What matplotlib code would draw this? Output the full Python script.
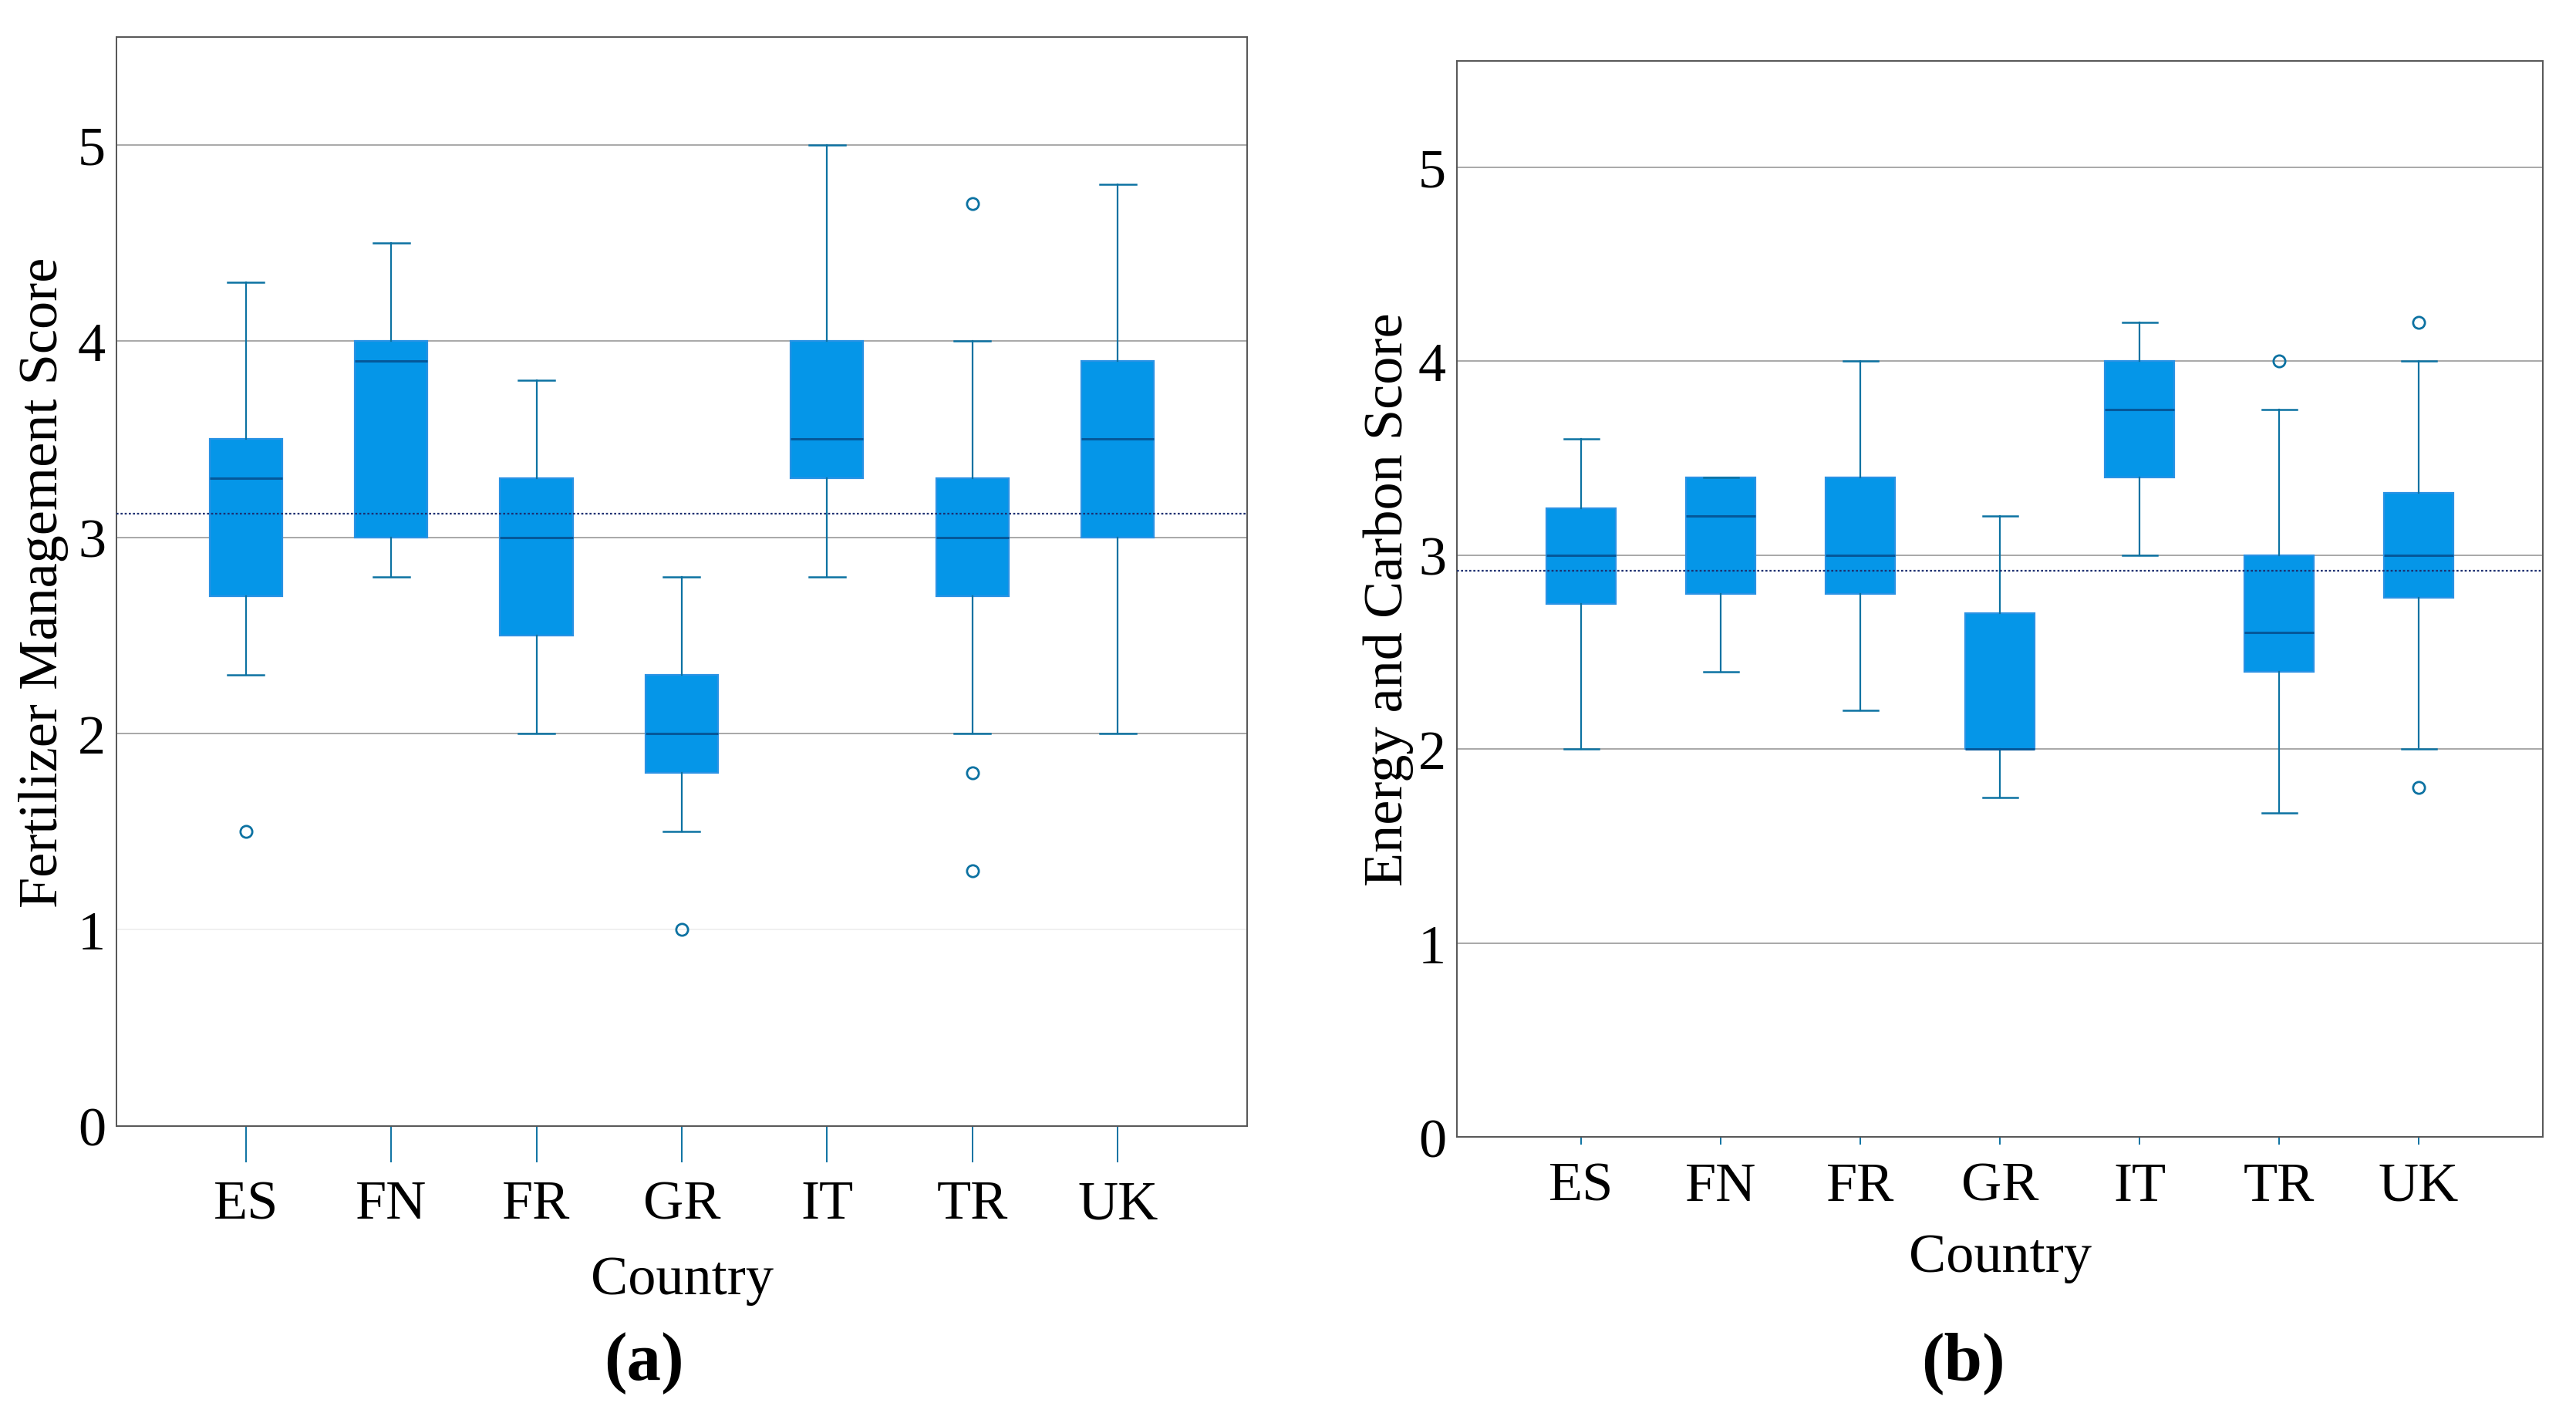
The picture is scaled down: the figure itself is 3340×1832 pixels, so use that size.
import matplotlib
matplotlib.use("Agg")
import matplotlib.pyplot as plt

plt.rcParams['font.family'] = ['Liberation Serif', 'DejaVu Serif']

countries = ["ES", "FN", "FR", "GR", "IT", "TR", "UK"]

# panel (a) Fertilizer Management Score
fert_low = [2.3, 2.8, 2.0, 1.5, 2.8, 2.0, 2.0]
fert_q1 = [2.7, 3.0, 2.5, 1.8, 3.3, 2.7, 3.0]
fert_med = [3.3, 3.9, 3.0, 2.0, 3.5, 3.0, 3.5]
fert_q3 = [3.5, 4.0, 3.3, 2.3, 4.0, 3.3, 3.9]
fert_high = [4.3, 4.5, 3.8, 2.8, 5.0, 4.0, 4.8]
fert_out = [[1.5], [], [], [1.0], [], [4.7, 1.8, 1.3], []]
fert_mean = 3.12

# panel (b) Energy and Carbon Score
energy_low = [2.0, 2.4, 2.2, 1.75, 3.0, 1.67, 2.0]
energy_q1 = [2.75, 2.8, 2.8, 2.0, 3.4, 2.4, 2.78]
energy_med = [3.0, 3.2, 3.0, 2.0, 3.75, 2.6, 3.0]
energy_q3 = [3.24, 3.4, 3.4, 2.7, 4.0, 3.0, 3.32]
energy_high = [3.6, 3.4, 4.0, 3.2, 4.2, 3.75, 4.0]
energy_out = [[], [], [], [], [], [4.0], [4.2, 1.8]]
energy_mean = 2.92

BOX = '#0596e8'
LINE = '#0c72a2'
MED = '#05589a'


def draw_panel(ax, low, q1, med, q3, high, outl, mean, ylabel, longticks, faint_one, labx):
    stats = []
    for i in range(len(countries)):
        stats.append({'whislo': low[i], 'q1': q1[i], 'med': med[i], 'q3': q3[i],
                      'whishi': high[i], 'fliers': outl[i], 'label': countries[i]})
    # grid lines first so boxes sit on top
    for lv in [1, 2, 3, 4, 5]:
        c = '#eeeeee' if (lv == 1 and faint_one) else '#9a9a9a'
        ax.axhline(lv, color=c, lw=0.6, zorder=0)
    ax.axhline(mean, color='#1c2f70', lw=0.8, ls=(0, (1.2, 1.2)), zorder=3)
    ax.bxp(stats, positions=range(len(countries)), widths=0.5, capwidths=0.25,
           patch_artist=True, showfliers=True,
           boxprops=dict(facecolor=BOX, edgecolor='#2a92e4', lw=0.8),
           whiskerprops=dict(color=LINE, lw=0.8),
           capprops=dict(color=LINE, lw=0.9),
           medianprops=dict(color=MED, lw=1.1),
           flierprops=dict(marker='o', markerfacecolor='none', markeredgecolor=LINE,
                           markersize=5.5, markeredgewidth=1.0))
    ax.set_xlim(-0.89, 6.89)
    ax.set_ylim(0, 5.55)
    ax.set_yticks([0, 1, 2, 3, 4, 5])
    ax.tick_params(axis='y', length=0, labelsize=26, pad=5)
    if longticks:
        ax.tick_params(axis='x', length=17, width=0.7, color=LINE, labelsize=26, pad=8)
    else:
        ax.tick_params(axis='x', length=3.5, width=0.7, color=LINE, labelsize=26, pad=8)
    ax.set_xticks(range(len(countries)))
    ax.set_xticklabels(countries)
    for s in ax.spines.values():
        s.set_color('#555555')
        s.set_linewidth(0.7)
    ax.set_ylabel(ylabel, fontsize=26)
    ax.yaxis.set_label_coords(labx, 0.5)


fig = plt.figure(figsize=(16.7, 9.165), dpi=200)
ax1 = fig.add_axes([0.0452, 0.2030, 0.4389, 0.7703])
ax2 = fig.add_axes([0.5656, 0.1953, 0.4216, 0.7613])

draw_panel(ax1, fert_low, fert_q1, fert_med, fert_q3, fert_high, fert_out, fert_mean,
           "Fertilizer Management Score", True, True, -0.042)
draw_panel(ax2, energy_low, energy_q1, energy_med, energy_q3, energy_high, energy_out,
           energy_mean, "Energy and Carbon Score", False, False, -0.040)

fig.text(0.2647, 0.0846, "Country", ha='center', va='baseline', fontsize=26)
fig.text(0.7766, 0.1004, "Country", ha='center', va='baseline', fontsize=26)
fig.text(0.25, 0.0355, "(a)", ha='center', va='center', fontsize=32, fontweight='bold')
fig.text(0.762, 0.0355, "(b)", ha='center', va='center', fontsize=32, fontweight='bold')

fig.savefig("out.png", dpi=200, facecolor='white')
